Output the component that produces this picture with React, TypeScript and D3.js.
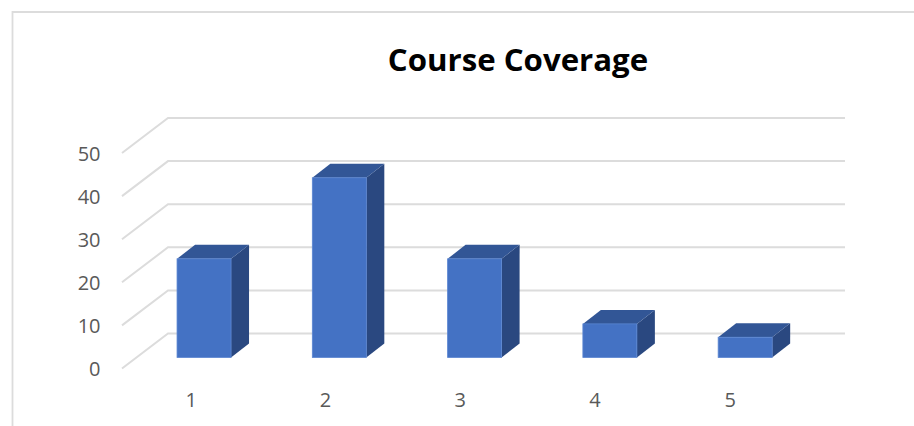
import React from "react";
import * as d3 from "d3";

const title = "Course Coverage";
const categories = ["1", "2", "3", "4", "5"];
const values = [22.9, 41.7, 22.9, 7.8, 4.7];
const yTicks = [0, 10, 20, 30, 40, 50];
const labelNudge = [1.5, 0.5, 0, -0.5, -0.5];

const W = 914, H = 426;
const GRID = "#dcdcdc";
const FONT = "'Open Sans', 'Noto Sans', sans-serif";
const FRONT_TOP = "#4472c4", TOP_FACE = "#325696", SIDE_FACE = "#2a4880", EDGE = "#5b86d2";

export default function App() {
  const x = d3.scaleBand<string>().domain(categories).range([122, 798.4]);
  const y = d3.scaleLinear().domain([0, 50]).range([368.5, 153]);
  const depth = { dx: 46, dy: -35 };
  const barDepth = { dx: 18, dy: -14 };
  const barInset = { dx: 14.4, dy: -11 };
  const barW = 54;
  const k = (y(0) - y(10)) / 10;
  return (
    <svg width={W} height={H} style={{ position: "absolute", left: 0, top: 0, display: "block" }} fontFamily={FONT}>
      <rect width={W} height={H} fill="#ffffff" />
      <path d={`M12.5,${H}V12H${W}`} fill="none" stroke={GRID} strokeWidth={1.8} />
      <text x={518} y={71} textAnchor="middle" fontSize={31.2} fontWeight={700} fill="#000000">{title}</text>
      {yTicks.map((t) => {
        const p = d3.path();
        p.moveTo(x.range()[0], y(t));
        p.lineTo(x.range()[0] + depth.dx, y(t) + depth.dy);
        p.lineTo(845, y(t) + depth.dy);
        return <path key={t} d={p.toString()} fill="none" stroke={GRID} strokeWidth={2} />;
      })}
      {yTicks.map((t) => (
        <text key={t} x={100.5} y={y(t) + 7.5} textAnchor="end" fontSize={20} fill="#595959">{t}</text>
      ))}
      {categories.map((c, i) => {
        const v = values[i];
        const x0 = (x(c) as number) + (x.bandwidth() - barW) / 2 + barInset.dx;
        const base = y(0) + barInset.dy;
        const top = base - v * k;
        const x1 = x0 + barW;
        const { dx, dy } = barDepth;
        return (
          <g key={c}>
            <path d={`M${x1},${base}L${x1 + dx},${base + dy}V${top + dy}L${x1},${top}Z`} fill={SIDE_FACE} />
            <path d={`M${x0},${top}L${x0 + dx},${top + dy}H${x1 + dx}L${x1},${top}Z`} fill={TOP_FACE} />
            <rect x={x0} y={top} width={barW} height={base - top} fill={FRONT_TOP} stroke={EDGE} strokeWidth={0.8} />
          </g>
        );
      })}
      {categories.map((c, i) => (
        <text key={c} x={(x(c) as number) + x.bandwidth() / 2 + labelNudge[i]} y={407} textAnchor="middle" fontSize={20} fill="#595959">{c}</text>
      ))}
    </svg>
  );
}
